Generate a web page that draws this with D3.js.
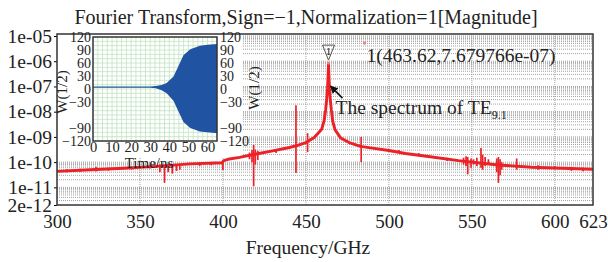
<!DOCTYPE html>
<html>
<head>
<meta charset="utf-8">
<script src="https://cdn.jsdelivr.net/npm/d3@7"></script>
<style>
  body { margin: 0; background: #fff; }
  text { font-family: "Liberation Serif", "Times New Roman", serif; fill: #222; }
</style>
</head>
<body>
<div id="chart"></div>
<script>
// Spectrum trace (GHz, magnitude)
const freq = [300, 320, 340, 360, 380, 399.5, 400.5, 403, 410, 420, 430, 440, 445, 450, 455, 459.5, 461, 461.9, 462.5, 463, 463.32, 463.62, 463.92, 464.2, 464.7, 465.3, 466.2, 467.6, 471, 476, 483, 490, 500, 510, 526, 542, 566, 586, 623];
const magnitude = [4.3e-11, 5e-11, 5.7e-11, 6.8e-11, 8.5e-11, 9.5e-11, 1.15e-10, 1.3e-10, 1.55e-10, 2.1e-10, 2.8e-10, 3.8e-10, 4.6e-10, 6e-10, 9.5e-10, 2e-9, 4.5e-9, 1.2e-8, 3e-8, 8e-8, 2.2e-7, 7.679766e-7, 2.2e-7, 8e-8, 3e-8, 1.2e-8, 4e-9, 1.9e-9, 9e-10, 6e-10, 4.2e-10, 3.6e-10, 2.9e-10, 2.2e-10, 1.6e-10, 1.15e-10, 7.7e-11, 6.3e-11, 5.2e-11];

// Noise spikes (GHz, top, bottom)
const spikeFreq = [306, 314, 323.5, 331, 345, 356, 362, 364.8, 367, 369.5, 372, 374, 386, 393, 400, 416, 417.5, 418.5, 419.5, 421, 432, 444, 451, 483.3, 506, 518, 535, 545, 546.5, 547.5, 549.5, 551, 553, 555.5, 556.5, 558, 560, 565, 566, 567, 568, 577, 590, 600, 610, 617];
const spikeTop = [5.2e-11, 5.5e-11, 6.5e-11, 6e-11, 6.6e-11, 7.5e-11, 8e-11, 8e-11, 8e-11, 8e-11, 7.5e-11, 7e-11, 9.5e-11, 1e-10, 1.05e-10, 2.4e-10, 3e-10, 4.8e-10, 3.2e-10, 2.8e-10, 3.3e-10, 1.8e-8, 1.4e-9, 1e-9, 3e-10, 2.3e-10, 1.5e-10, 1.5e-10, 1.7e-10, 1.6e-10, 1.4e-10, 1.3e-10, 1.5e-10, 3.6e-10, 2e-10, 1.6e-10, 1.3e-10, 1.4e-10, 1.6e-10, 1.3e-10, 1e-10, 1.4e-10, 7.5e-11, 7e-11, 6.5e-11, 6e-11];
const spikeBottom = [4e-11, 4.2e-11, 4.3e-11, 4.6e-11, 5e-11, 5.6e-11, 4e-11, 1.5e-11, 4e-11, 3.5e-11, 4.5e-11, 5e-11, 7e-11, 7.5e-11, 4.9e-11, 1.3e-10, 1e-10, 1.1e-11, 8e-11, 1.2e-10, 2.3e-10, 3.7e-11, 2.5e-10, 1e-10, 2.3e-10, 1.8e-10, 1.1e-10, 8e-11, 7e-11, 3.3e-11, 6e-11, 8e-11, 7e-11, 6e-11, 5e-11, 7e-11, 8e-11, 4e-11, 1.5e-11, 3e-11, 5e-11, 5e-11, 5e-11, 5.2e-11, 4.5e-11, 4.4e-11];

const xTicks = [300, 350, 400, 450, 500, 550, 600, 623];
const yTicks = [1e-5, 1e-6, 1e-7, 1e-8, 1e-9, 1e-10, 1e-11, 2e-12];
const yTickLabels = ["1e-05", "1e-06", "1e-07", "1e-08", "1e-09", "1e-10", "1e-11", "2e-12"];

// Inset: time signal envelope
const time = [0, 30, 33, 36, 38.6, 42.2, 44.8, 47.4, 51, 56, 60, 65];
const envUpper = [6, 6, 7, 9, 14, 29, 53, 78, 92, 100, 102, 104];
const envLower = [3, 3, 2, -3, -10, -27, -52, -76, -90, -98, -100, -102];
const insetXTicks = [0, 10, 20, 30, 40, 50, 60];
const insetYTicks = [120, 90, 60, 30, 0, -30, -90, -120];

const peakF = 463.62, peakV = 7.679766e-7;

const width = 608, height = 262;
const svg = d3.select("#chart").append("svg")
    .attr("width", width)
    .attr("height", height);

const x = d3.scaleLinear().domain([300, 623]).range([57, 593]);
const y = d3.scaleLog().domain([2e-12, 1.2e-5]).range([205, 34]);

// minor + major horizontal grid
const gridVals = [];
for (let d = -12; d <= -5; d++) {
    for (let k = 1; k <= 9; k++) {
        const v = k * Math.pow(10, d);
        if (v > 2e-12 && v < 1.2e-5) gridVals.push(v);
    }
}
svg.append("g").selectAll("line")
    .data(gridVals)
    .enter().append("line")
    .attr("x1", 57).attr("x2", 593)
    .attr("y1", d => y(d)).attr("y2", d => y(d))
    .attr("stroke", "#8a8a8a")
    .attr("stroke-width", 0.8)
    .attr("stroke-dasharray", "1,1");

svg.append("g").selectAll("line")
    .data(xTicks.slice(1, -1))
    .enter().append("line")
    .attr("x1", d => x(d)).attr("x2", d => x(d))
    .attr("y1", 34).attr("y2", 205)
    .attr("stroke", "#8a8a8a")
    .attr("stroke-width", 0.8)
    .attr("stroke-dasharray", "1,1");

// white area behind the inset
svg.append("rect")
    .attr("x", 57).attr("y", 34)
    .attr("width", 186).attr("height", 124)
    .attr("fill", "#fff");

// spectrum
const red = "#ec2027";
const line = d3.line().x(d => x(d[0])).y(d => y(d[1]));
svg.append("path")
    .datum(freq.map((f, i) => [f, magnitude[i]]))
    .attr("fill", "none")
    .attr("stroke", red)
    .attr("stroke-width", 2.9)
    .attr("stroke-linejoin", "round")
    .attr("d", line);

svg.append("g").selectAll("line")
    .data(spikeFreq)
    .enter().append("line")
    .attr("x1", d => x(d)).attr("x2", d => x(d))
    .attr("y1", (d, i) => y(spikeTop[i]))
    .attr("y2", (d, i) => y(spikeBottom[i]))
    .attr("stroke", red)
    .attr("stroke-width", 1.7);

// axes
const xAxis = d3.axisBottom(x).tickValues(xTicks).tickSize(0).tickPadding(10);
svg.append("g")
    .attr("transform", "translate(0,205)")
    .call(xAxis)
    .call(g => g.select(".domain").remove())
    .selectAll("text")
    .style("font-family", "Liberation Serif")
    .style("font-size", "19px")
    .attr("fill", "#222");

const yAxis = d3.axisLeft(y).tickValues(yTicks).tickSize(3).tickPadding(2)
    .tickFormat((d, i) => yTickLabels[i]);
svg.append("g")
    .attr("transform", "translate(57,0)")
    .call(yAxis)
    .call(g => g.select(".domain").remove())
    .call(g => g.selectAll(".tick text")
        .style("font-family", "Liberation Serif")
        .style("font-size", "19.5px")
        .attr("fill", "#222"));

svg.append("rect")
    .attr("x", 57).attr("y", 34)
    .attr("width", 536).attr("height", 171)
    .attr("fill", "none")
    .attr("stroke", "#333")
    .attr("stroke-width", 1.5);

svg.append("text")
    .attr("x", 306).attr("y", 24)
    .attr("text-anchor", "middle")
    .style("font-size", "20px")
    .text("Fourier Transform,Sign=\u22121,Normalization=1[Magnitude]");

svg.append("text")
    .attr("x", 308).attr("y", 254)
    .attr("text-anchor", "middle")
    .style("font-size", "19.5px")
    .text("Frequency/GHz");

// peak marker
const px = x(peakF), py = y(peakV);
svg.append("path")
    .attr("d", `M${px - 6},${py - 19} L${px + 6},${py - 19} L${px},${py - 4} Z`)
    .attr("fill", "none")
    .attr("stroke", "#555")
    .attr("stroke-width", 1);
svg.append("text")
    .attr("x", px).attr("y", py - 9)
    .attr("text-anchor", "middle")
    .style("font-size", "11px")
    .text("1");
svg.append("circle")
    .attr("cx", px).attr("cy", py - 1)
    .attr("r", 1.6)
    .attr("fill", "#f08080");
svg.append("circle")
    .attr("cx", px + 36).attr("cy", py - 21)
    .attr("r", 1.6)
    .attr("fill", "#f08080");
svg.append("text")
    .attr("x", px + 38).attr("y", py - 2)
    .style("font-size", "19.5px")
    .text("1(463.62,7.679766e-07)");

// annotation
svg.append("defs").append("marker")
    .attr("id", "arrow")
    .attr("viewBox", "0 0 10 10")
    .attr("refX", 9).attr("refY", 5)
    .attr("markerWidth", 5).attr("markerHeight", 5)
    .attr("orient", "auto")
    .append("path")
    .attr("d", "M0,0 L10,5 L0,10 Z")
    .attr("fill", "#111");
svg.append("line")
    .attr("x1", px + 14).attr("y1", py + 34)
    .attr("x2", px + 2).attr("y2", py + 22)
    .attr("stroke", "#111")
    .attr("stroke-width", 1.6)
    .attr("marker-end", "url(#arrow)");
const ann = svg.append("text")
    .attr("x", px + 7).attr("y", py + 50)
    .style("font-size", "19.5px")
    .text("The spectrum of TE");
ann.append("tspan")
    .attr("dy", 5)
    .style("font-size", "12px")
    .text("9.1");

// inset
const ix = d3.scaleLinear().domain([0, 65]).range([93, 217]);
const iy = d3.scaleLinear().domain([-120, 120]).range([141, 37]);
const inset = svg.append("g");

inset.append("rect")
    .attr("x", 93).attr("y", 37)
    .attr("width", 124).attr("height", 104)
    .attr("fill", "#fff");

inset.append("g").selectAll("line")
    .data(d3.range(2.5, 65, 2.5))
    .enter().append("line")
    .attr("x1", d => ix(d)).attr("x2", d => ix(d))
    .attr("y1", 37).attr("y2", 141)
    .attr("stroke", "#bfe3bf")
    .attr("stroke-width", 0.8);
inset.append("g").selectAll("line")
    .data(d3.range(-110, 120, 10))
    .enter().append("line")
    .attr("x1", 93).attr("x2", 217)
    .attr("y1", d => iy(d)).attr("y2", d => iy(d))
    .attr("stroke", "#bfe3bf")
    .attr("stroke-width", 0.8);

const area = d3.area()
    .x(d => ix(d[0]))
    .y0(d => iy(d[2]))
    .y1(d => iy(d[1]));
inset.append("path")
    .datum(time.map((t, i) => [t, envUpper[i], envLower[i]]))
    .attr("fill", "#2153a3")
    .attr("d", area);

inset.append("rect")
    .attr("x", 93).attr("y", 37)
    .attr("width", 124).attr("height", 104)
    .attr("fill", "none")
    .attr("stroke", "#333")
    .attr("stroke-width", 1.5);

const insetLeft = d3.axisLeft(iy).tickValues(insetYTicks).tickSize(0).tickPadding(2)
    .tickFormat(d => d < 0 ? "\u2212" + Math.abs(d) : d);
inset.append("g")
    .attr("transform", "translate(93,0)")
    .call(insetLeft)
    .call(g => g.select(".domain").remove())
    .call(g => g.selectAll(".tick text")
        .style("font-family", "Liberation Serif")
        .style("font-size", "14px")
        .attr("fill", "#222"));

const insetRight = d3.axisRight(iy).tickValues(insetYTicks).tickSize(0).tickPadding(3)
    .tickFormat(d => d < 0 ? "\u2212" + Math.abs(d) : d);
inset.append("g")
    .attr("transform", "translate(217,0)")
    .call(insetRight)
    .call(g => g.select(".domain").remove())
    .call(g => g.selectAll(".tick text")
        .style("font-family", "Liberation Serif")
        .style("font-size", "14px")
        .attr("fill", "#222"));

const insetBottom = d3.axisBottom(ix).tickValues(insetXTicks).tickSize(0).tickPadding(1);
inset.append("g")
    .attr("transform", "translate(0,141)")
    .call(insetBottom)
    .call(g => g.select(".domain").remove())
    .call(g => g.selectAll(".tick text")
        .style("font-family", "Liberation Serif")
        .style("font-size", "14.5px")
        .attr("fill", "#222"));

inset.append("text")
    .attr("transform", "translate(67,92) rotate(-90)")
    .attr("text-anchor", "middle")
    .style("font-size", "15px")
    .text("W(1/2)");
inset.append("text")
    .attr("transform", "translate(259,88) rotate(-90)")
    .attr("text-anchor", "middle")
    .style("font-size", "15px")
    .text("W(1/2)");
inset.append("text")
    .attr("x", 149).attr("y", 168)
    .attr("text-anchor", "middle")
    .style("font-size", "15px")
    .text("Time/ns");
</script>
</body>
</html>
